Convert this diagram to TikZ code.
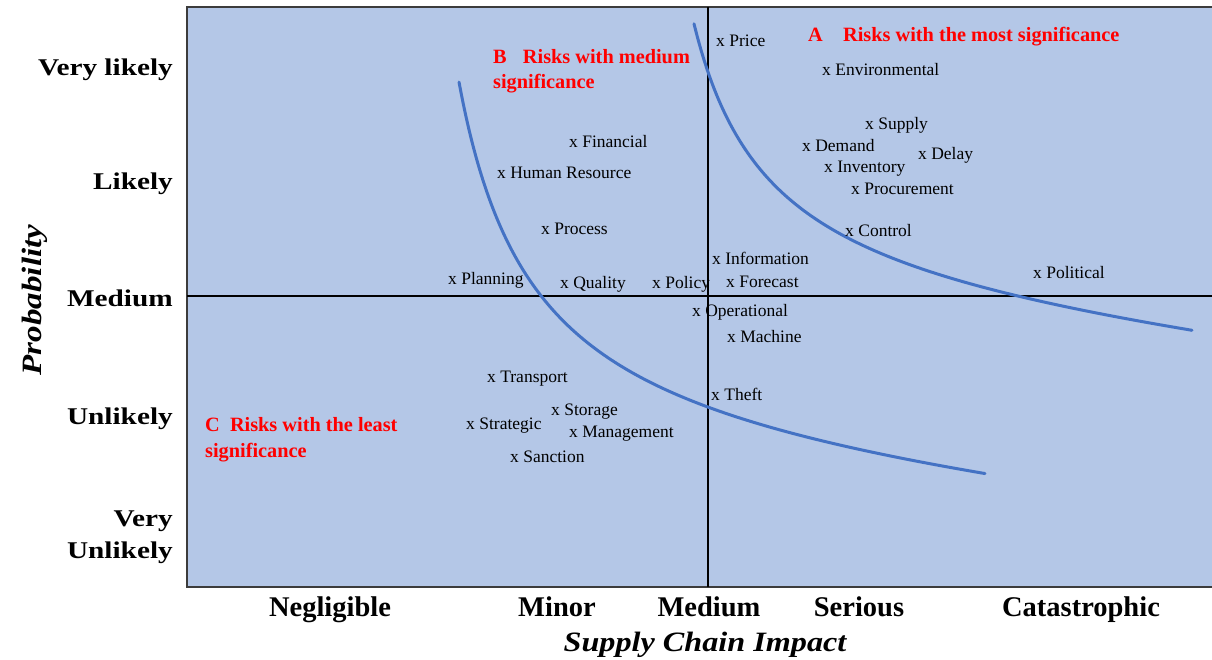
\documentclass[tikz,border=0pt]{standalone}
\usepackage{fontspec}
\setmainfont{Liberation Serif}
\usepackage{graphicx}
\definecolor{panelblue}{HTML}{B4C7E7}
\definecolor{curveblue}{HTML}{4472C4}
\definecolor{framegray}{HTML}{3C3C3C}
\begin{document}
\begin{tikzpicture}[x=1pt,y=-1pt,
  risk/.style={anchor=west,inner sep=0pt,text height=12pt,text depth=0pt,font=\fontsize{17.5}{20}\selectfont},
  zone/.style={anchor=west,inner sep=0pt,text height=13pt,text depth=0pt,text=red,font=\fontsize{20.3}{23}\selectfont\bfseries},
  ylab/.style={anchor=east,inner sep=0pt,text height=16pt,text depth=0pt,font=\fontsize{24}{27}\selectfont\bfseries},
  xlab/.style={anchor=center,inner sep=0pt,text height=19pt,text depth=0pt,font=\fontsize{28.5}{32}\selectfont\bfseries},
  axistitle/.style={anchor=center,inner sep=0pt,text height=19pt,text depth=0pt,font=\fontsize{28}{32}\selectfont\bfseries\itshape},
  riskcurve/.style={curveblue,line width=3pt,line cap=round},
  divider/.style={black,line width=1.5pt},
  frame/.style={framegray,line width=2.5pt}]
\useasboundingbox (0,0) rectangle (1212,659);
% panel
\fill[panelblue] (187,7) rectangle (1212,587);
\draw[frame] (1212,7) -- (187,7) -- (187,587) -- (1212,587);
\coordinate (vtop) at (708,7);
\coordinate (vbot) at (708,587);
\coordinate (hleft) at (187,296);
\coordinate (hright) at (1212,296);
\draw[divider] (vtop) -- (vbot);
\draw[divider] (hleft) -- (hright);
% curves
\draw[riskcurve] plot[domain=459:985,samples=150,smooth] (\x,{433.2+0.0901*\x-290.46/((\x-385)/100)});
\draw[riskcurve] plot[domain=694:1192,samples=150,smooth] (\x,{247.7+0.1012*\x-217.66/((\x-620)/100)});
% zone labels
\node[zone] (zA) at (808,35) {A\hspace{1em}Risks with the most significance};
\node[zone] (zB1) at (493,57) {B\hspace{0.8em}Risks with medium};
\node[zone] (zB2) at (493,82) {significance};
\node[zone] (zC1) at (205,425) {C\hspace{0.5em}Risks with the least};
\node[zone] (zC2) at (205,451) {significance};
% risks
\node[risk] (price) at (716,40) {x Price};
\node[risk] (env) at (822,69) {x Environmental};
\node[risk] (supply) at (865,123) {x Supply};
\node[risk] (demand) at (802,145) {x Demand};
\node[risk] (delay) at (918,153) {x Delay};
\node[risk] (inventory) at (824,166) {x Inventory};
\node[risk] (procure) at (851,188) {x Procurement};
\node[risk] (control) at (845,230) {x Control};
\node[risk] (info) at (712,258) {x Information};
\node[risk] (forecast) at (726,281) {x Forecast};
\node[risk] (political) at (1033,272) {x Political};
\node[risk] (policy) at (652,282) {x Policy};
\node[risk] (quality) at (560,282) {x Quality};
\node[risk] (planning) at (448,278) {x Planning};
\node[risk] (process) at (541,228) {x Process};
\node[risk] (financial) at (569,141) {x Financial};
\node[risk] (human) at (497,172) {x Human Resource};
\node[risk] (operational) at (692,310) {x Operational};
\node[risk] (machine) at (727,336) {x Machine};
\node[risk] (transport) at (487,376) {x Transport};
\node[risk] (theft) at (711,394) {x Theft};
\node[risk] (storage) at (551,409) {x Storage};
\node[risk] (strategic) at (466,423) {x Strategic};
\node[risk] (management) at (569,431) {x Management};
\node[risk] (sanction) at (510,456) {x Sanction};
% y axis labels
\node[ylab] (vl) at (173,67) {\scalebox{1.22}[1]{Very likely}};
\node[ylab] (l) at (173,181) {\scalebox{1.22}[1]{Likely}};
\node[ylab] (m) at (173,298) {\scalebox{1.22}[1]{Medium}};
\node[ylab] (u) at (173,416) {\scalebox{1.22}[1]{Unlikely}};
\node[ylab] (vu1) at (173,518) {\scalebox{1.22}[1]{Very}};
\node[ylab] (vu2) at (173,550) {\scalebox{1.22}[1]{Unlikely}};
% x axis labels
\node[xlab] (neg) at (330,607) {Negligible};
\node[xlab] (minor) at (557,607) {Minor};
\node[xlab] (med) at (709,607) {Medium};
\node[xlab] (ser) at (859,607) {Serious};
\node[xlab] (cat) at (1081,607) {Catastrophic};
% axis titles
\node[axistitle] (xt) at (705,642) {\scalebox{1.15}[1]{Supply Chain Impact}};
\node[axistitle,rotate=90] (yt) at (32,300) {\scalebox{1.18}[1]{Probability}};
\end{tikzpicture}
\end{document}
